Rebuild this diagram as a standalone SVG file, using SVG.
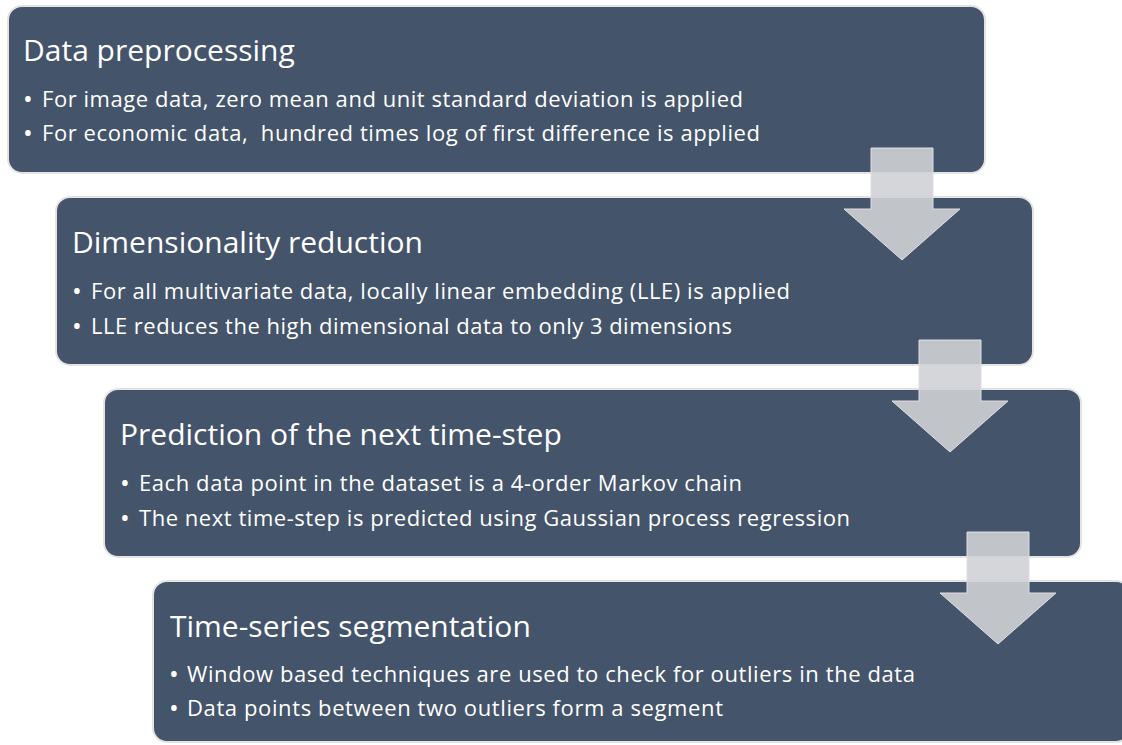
<svg xmlns="http://www.w3.org/2000/svg" width="1122" height="745" viewBox="0 0 1122 745">
<style>
.box{fill:#44546a;stroke:#e3e3e3;stroke-width:2}
.title{font-family:"Open Sans","Noto Sans",sans-serif;font-size:30px;fill:#ffffff}
.bul{font-family:"Open Sans","Noto Sans",sans-serif;font-size:22px;fill:#ffffff;white-space:pre}
.dot{font-family:"Open Sans","Noto Sans",sans-serif;font-size:26px;fill:#ffffff}
.arrow{fill:#cfd1d5;fill-opacity:0.9;stroke:#dcdee1;stroke-width:1}
</style>
<rect width="1122" height="745" fill="#ffffff"/>
<g id="node1">
<rect class="box" x="8" y="6" width="977" height="167" rx="14"/>
<text class="title" x="23" y="61">Data preprocessing</text>
<text class="dot" x="23" y="108">•</text>
<text class="bul" x="42" y="107" textLength="701" lengthAdjust="spacing">For image data, zero mean and unit standard deviation is applied</text>
<text class="dot" x="23" y="142">•</text>
<text class="bul" x="42" y="141" textLength="718" lengthAdjust="spacing">For economic data,  hundred times log of first difference is applied</text>
</g>
<g id="node2">
<rect class="box" x="56" y="197" width="977" height="168" rx="14"/>
<text class="title" x="72" y="253">Dimensionality reduction</text>
<text class="dot" x="72" y="300">•</text>
<text class="bul" x="91" y="299" textLength="699" lengthAdjust="spacing">For all multivariate data, locally linear embedding (LLE) is applied</text>
<text class="dot" x="72" y="335">•</text>
<text class="bul" x="91" y="334" textLength="641" lengthAdjust="spacing">LLE reduces the high dimensional data to only 3 dimensions</text>
</g>
<g id="node3">
<rect class="box" x="104" y="389" width="977" height="168" rx="14"/>
<text class="title" x="120" y="445">Prediction of the next time-step</text>
<text class="dot" x="120" y="492">•</text>
<text class="bul" x="139" y="491" textLength="603" lengthAdjust="spacing">Each data point in the dataset is a 4-order Markov chain</text>
<text class="dot" x="120" y="527">•</text>
<text class="bul" x="139" y="526" textLength="711" lengthAdjust="spacing">The next time-step is predicted using Gaussian process regression</text>
</g>
<g id="node4">
<rect class="box" x="153" y="581" width="977" height="161" rx="14"/>
<text class="title" x="170" y="637">Time-series segmentation</text>
<text class="dot" x="169" y="683">•</text>
<text class="bul" x="187" y="682" textLength="728" lengthAdjust="spacing">Window based techniques are used to check for outliers in the data</text>
<text class="dot" x="169" y="717">•</text>
<text class="bul" x="187" y="716" textLength="536" lengthAdjust="spacing">Data points between two outliers form a segment</text>
</g>
<g id="connectors">
<polygon class="arrow" points="871,148 933,148 933,209 960,209 902,260 844,209 871,209"/>
<polygon class="arrow" points="919,340 981,340 981,401 1008,401 950,452 892,401 919,401"/>
<polygon class="arrow" points="967,532 1029,532 1029,593 1056,593 998,644 940,593 967,593"/>
</g>
</svg>
